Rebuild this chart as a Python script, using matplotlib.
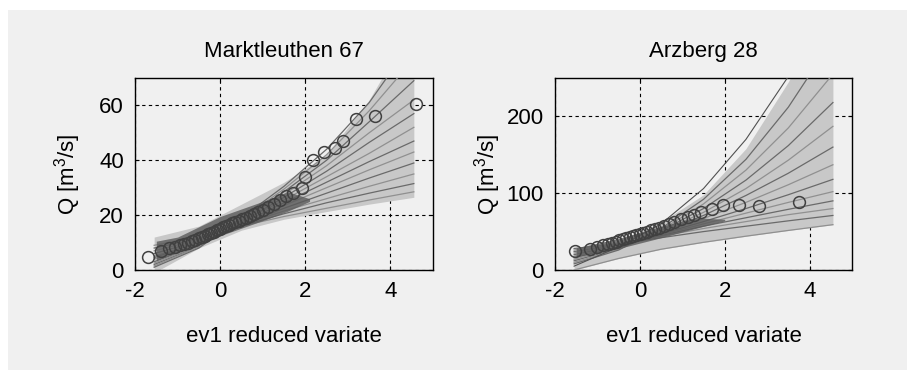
import matplotlib
matplotlib.use('Agg')
import matplotlib.pyplot as plt
from matplotlib.patches import Rectangle

plt.rcParams['font.family'] = ['Liberation Sans', 'DejaVu Sans']
plt.rcParams['mathtext.default'] = 'regular'
plt.rcParams['axes.unicode_minus'] = False

# knots along the reduced variate where the fitted curves were read
knots = [-1.55, -0.5, 0.5, 1.5, 2.5, 3.5, 4.55]

# --- Marktleuthen 67
title_l = 'Marktleuthen 67'
band_lo_l = [-1, 8, 14.5, 18.5, 21.3, 24, 26.5]
band_hi_l = [12, 16, 24, 32, 42, 62, 90]
core_x_l = [-1.5, -1.0, 0.0, 1.0, 1.6, 2.1]
core_lo_l = [3.5, 6.5, 12.5, 18, 21.5, 25]
core_hi_l = [10.5, 12, 19.5, 25, 28.5, 26]
curves_l = [
    [9, 12, 16, 19.5, 22.5, 25.5, 28.5],
    [8, 11.5, 16, 20.5, 24.5, 28, 31.5],
    [7, 11, 16.5, 21.5, 26, 30.5, 35],
    [6, 10.5, 16.5, 22.5, 28, 33.5, 39],
    [5, 10, 17, 23.5, 30, 36.5, 43],
    [4.5, 10, 17, 24.5, 32, 39.5, 47],
    [4, 9.5, 17.5, 25.5, 34, 42.5, 52],
    [3, 9, 17.5, 26.5, 36, 46.5, 57],
    [2.5, 9, 18, 27.5, 38, 50, 62],
    [2, 8.5, 18, 28.5, 40, 54, 69],
    [1.5, 8.5, 18.5, 29.5, 42, 58, 77],
    [1, 8, 19, 30.5, 44, 61, 84],
]
obs_x_l = [-1.70, -1.38, -1.20, -1.06, -0.94, -0.84, -0.75, -0.66, -0.58, -0.50,
           -0.43, -0.36, -0.29, -0.22, -0.15, -0.08, -0.01, 0.06, 0.13, 0.21,
           0.28, 0.36, 0.44, 0.52, 0.61, 0.70, 0.80, 0.90, 1.01, 1.13, 1.26,
           1.40, 1.55, 1.72, 1.92, 2.00, 2.18, 2.45, 2.69, 2.88, 3.18, 3.63, 4.60]
obs_y_l = [4.8, 7, 8, 8.5, 9, 9.5, 10, 10.5, 11, 11.5,
           12, 12.5, 13, 13.5, 14, 14.5, 15, 15.5, 16, 16.5,
           17, 17.5, 18, 18.5, 19, 19.5, 20.5, 21, 22, 23, 24,
           25.5, 27, 28, 30, 34, 40, 43, 44.5, 47, 55, 56, 60.6]

# --- Arzberg 28
title_r = 'Arzberg 28'
band_lo_r = [0, 15, 27, 36, 44, 51.5, 59]
band_hi_r = [25, 38, 62, 98, 158, 245, 360]
core_x_r = [-1.5, -0.5, 0.5, 1.3, 2.0]
core_lo_r = [17, 28, 42, 54, 64]
core_hi_r = [29, 41, 57, 68, 66]
curves_r = [
    [0, 15, 27, 36, 44, 51.5, 59],
    [28, 34, 42, 50, 57, 64, 71],
    [26, 34, 44, 54, 63, 72, 80],
    [24, 33, 45, 57, 68, 79, 90],
    [22, 33, 46, 60, 74, 88, 102],
    [20, 32, 47, 63, 80, 98, 118],
    [18, 31, 48, 67, 88, 111, 137],
    [16, 30, 49, 71, 97, 126, 160],
    [14, 29, 50, 75, 106, 143, 187],
    [12, 28, 51, 80, 117, 162, 218],
    [10, 27, 52, 86, 130, 185, 255],
    [8, 26, 54, 92, 144, 212, 300],
]
upper_r = [5, 30, 60, 106, 170, 252, 360]
obs_x_r = [-1.53, -1.17, -1.00, -0.87, -0.76, -0.66, -0.57, -0.48, -0.40, -0.32,
           -0.24, -0.16, -0.08, 0.00, 0.08, 0.17, 0.26, 0.35, 0.45, 0.56,
           0.68, 0.81, 0.96, 1.13, 1.27, 1.45, 1.70, 1.97, 2.33, 2.80, 3.75]
obs_y_r = [24.5, 27, 30, 32, 34, 35.5, 37, 38.5, 40, 41,
           42.5, 44, 45.5, 47, 48.5, 50, 51.5, 53, 55, 57,
           60, 63, 66, 69, 71, 75, 80, 85, 85, 83, 89]

bg = '#f0f0f0'
fig = plt.figure(figsize=(9.07, 3.70), dpi=100, facecolor='white')
fig.patches.append(Rectangle((8 / 907, 0), 1, 1 - 10 / 370, transform=fig.transFigure,
                             facecolor=bg, edgecolor='none', zorder=-10))


def panel(rect, title, lo, hi, cx, clo, chi, curves, ox, oy, ymax, yticks, extra=None):
    ax = fig.add_axes(rect)
    ax.set_facecolor(bg)
    ax.fill_between(knots, lo, hi, color='#c8c8c8', lw=0, zorder=2)
    for i, c in enumerate(curves):
        col = '#6a6a6a' if i % 2 else '#909090'
        ax.plot(knots, c, color=col, lw=0.9, zorder=3)
    ax.fill_between(cx, clo, chi, color='#5a5a5a', lw=0, alpha=0.8, zorder=3)
    if extra is not None:
        ax.plot(knots, extra, color='#505050', lw=0.8, zorder=3)
    ax.plot(ox, oy, 'o', mfc='none', mec='#404040', ms=8.5, mew=1.1, zorder=4)
    ax.set_xlim(-2, 5)
    ax.set_ylim(0, ymax)
    ax.set_xticks([-2, 0, 2, 4])
    ax.set_yticks(yticks)
    ax.grid(True, color='black', ls=(0, (3, 3)), lw=0.8)
    ax.set_axisbelow(True)
    ax.tick_params(direction='in', length=3, top=True, right=True, labelsize=16, pad=8)
    for s in ax.spines.values():
        s.set_linewidth(1.0)
    ax.set_title(title, fontsize=16, pad=15)
    ax.set_xlabel('ev1 reduced variate', fontsize=16)
    ax.set_ylabel('Q [m$^3$/s]', fontsize=16)
    ax.xaxis.set_label_coords(0.5, -0.29)
    ax.yaxis.set_label_coords(-0.175, 0.5)
    return ax


panel([135 / 907, 0.2703, 298 / 907, 0.519], title_l, band_lo_l, band_hi_l,
      core_x_l, core_lo_l, core_hi_l, curves_l, obs_x_l, obs_y_l, 70, [0, 20, 40, 60])
panel([555 / 907, 0.2703, 297 / 907, 0.519], title_r, band_lo_r, band_hi_r,
      core_x_r, core_lo_r, core_hi_r, curves_r, obs_x_r, obs_y_r, 250, [0, 100, 200],
      extra=upper_r)

fig.savefig('out.png', dpi=100, facecolor=fig.get_facecolor())
